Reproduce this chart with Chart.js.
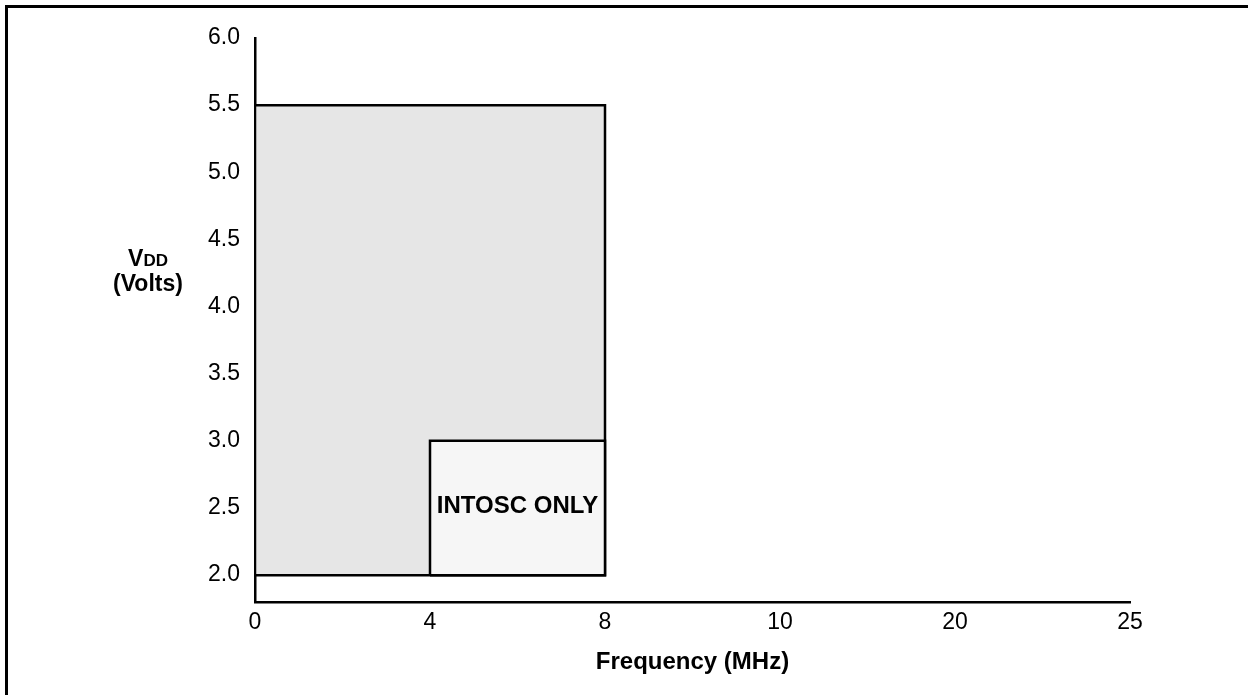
<!DOCTYPE html>
<html lang="en">
<head>
    <script src="https://cdn.jsdelivr.net/npm/chart.js@4/dist/chart.umd.min.js"></script>
    <style>
        body { margin: 0; background: #fff; }
        #canvas-container {
            position: relative;
            width: 1248px;
            height: 695px;
        }
    </style>
</head>
<body>

<div id="canvas-container">
    <canvas id="vdd-freq-chart"></canvas>
</div>

<script>
    // Frequency axis labels sit at even steps, not to scale
    const freqLabels = ["0", "4", "8", "10", "20", "25"];
    const voltTicks = [2.0, 2.5, 3.0, 3.5, 4.0, 4.5, 5.0, 5.5, 6.0];

    // operating region outlines, x = position in freqLabels, y = volts
    const fullRangeX = [0, 0, 2, 2, 0];
    const fullRangeY = [2.0, 5.5, 5.5, 2.0, 2.0];
    const intoscX = [1, 1, 2, 2, 1];
    const intoscY = [2.0, 3.0, 3.0, 2.0, 2.0];
    const intoscText = "INTOSC ONLY";

    const FONT = "'Liberation Sans', Arial, sans-serif";

    function toPoints(xs, ys) {
        return xs.map((x, i) => ({x: x, y: ys[i]}));
    }

    const extras = {
        id: "extras",
        beforeDraw(chart) {
            const ctx = chart.ctx;
            // frame round the figure (cut off at right and bottom)
            ctx.save();
            ctx.strokeStyle = "#000";
            ctx.lineWidth = 3;
            ctx.beginPath();
            ctx.moveTo(6.5, 700);
            ctx.lineTo(6.5, 6.5);
            ctx.lineTo(1260, 6.5);
            ctx.stroke();
            ctx.restore();
        },
        afterDraw(chart) {
            const ctx = chart.ctx;
            const xs = chart.scales.x, ys = chart.scales.y;
            ctx.save();
            ctx.fillStyle = "#000";
            ctx.textAlign = "center";
            ctx.textBaseline = "middle";
            ctx.font = "bold 24px " + FONT;
            ctx.fillText(intoscText, xs.getPixelForValue(1.5), ys.getPixelForValue(2.5) - 2);

            // y axis title: V with small-cap DD, then (Volts)
            const cx = chart.chartArea.left - 107;
            const big = "bold 23px " + FONT, small = "bold 17px " + FONT;
            ctx.font = big;
            const wV = ctx.measureText("V").width;
            ctx.font = small;
            const wDD = ctx.measureText("DD").width;
            let x0 = cx - (wV + wDD) / 2;
            ctx.textAlign = "left";
            ctx.textBaseline = "alphabetic";
            ctx.font = big;
            ctx.fillText("V", x0, 266);
            ctx.font = small;
            ctx.fillText("DD", x0 + wV, 266);
            ctx.font = big;
            ctx.textAlign = "center";
            ctx.fillText("(Volts)", cx, 291);
            ctx.restore();
        }
    };

    const ctx = document.getElementById("vdd-freq-chart").getContext("2d");

    const ch = new Chart(ctx, {
        type: "line",
        data: {
            datasets: [
                {
                    label: "INTOSC only",
                    data: toPoints(intoscX, intoscY),
                    borderColor: "#000",
                    borderWidth: 2.5,
                    backgroundColor: "#f6f6f6",
                    fill: "shape",
                    pointRadius: 0,
                    tension: 0,
                    order: 1
                },
                {
                    label: "Operating range",
                    data: toPoints(fullRangeX, fullRangeY),
                    borderColor: "#000",
                    borderWidth: 2.5,
                    backgroundColor: "#e6e6e6",
                    fill: "shape",
                    pointRadius: 0,
                    tension: 0,
                    order: 2
                }
            ]
        },
        options: {
            responsive: true,
            maintainAspectRatio: false,
            animation: false,
            layout: {
                padding: {left: 0, right: 118, top: 38, bottom: 0}
            },
            plugins: {
                legend: {display: false},
                tooltip: {enabled: false}
            },
            scales: {
                x: {
                    type: "linear",
                    min: 0,
                    max: freqLabels.length - 1,
                    afterBuildTicks: (scale) => {
                        scale.ticks = freqLabels.map((l, i) => ({value: i}));
                    },
                    afterFit: (scale) => { scale.height = 93; },
                    ticks: {
                        color: "#000",
                        padding: 7,
                        maxRotation: 0,
                        font: {family: FONT, size: 23},
                        callback: (v) => freqLabels[v]
                    },
                    grid: {display: false, drawTicks: false},
                    border: {color: "#000", width: 2.5},
                    title: {
                        display: true,
                        text: "Frequency (MHz)",
                        color: "#000",
                        font: {family: FONT, size: 24, weight: "bold"},
                        padding: {top: 0, bottom: 18}
                    }
                },
                y: {
                    type: "linear",
                    min: 1.8,
                    max: 6.0,
                    afterBuildTicks: (scale) => {
                        scale.ticks = voltTicks.map(v => ({value: v}));
                    },
                    afterFit: (scale) => { scale.width = 255; },
                    ticks: {
                        color: "#000",
                        padding: 15,
                        font: {family: FONT, size: 23},
                        callback: (v) => v.toFixed(1)
                    },
                    grid: {display: false, drawTicks: false},
                    border: {color: "#000", width: 2.5}
                }
            }
        },
        plugins: [extras]
    });
</script>

</body>
</html>
